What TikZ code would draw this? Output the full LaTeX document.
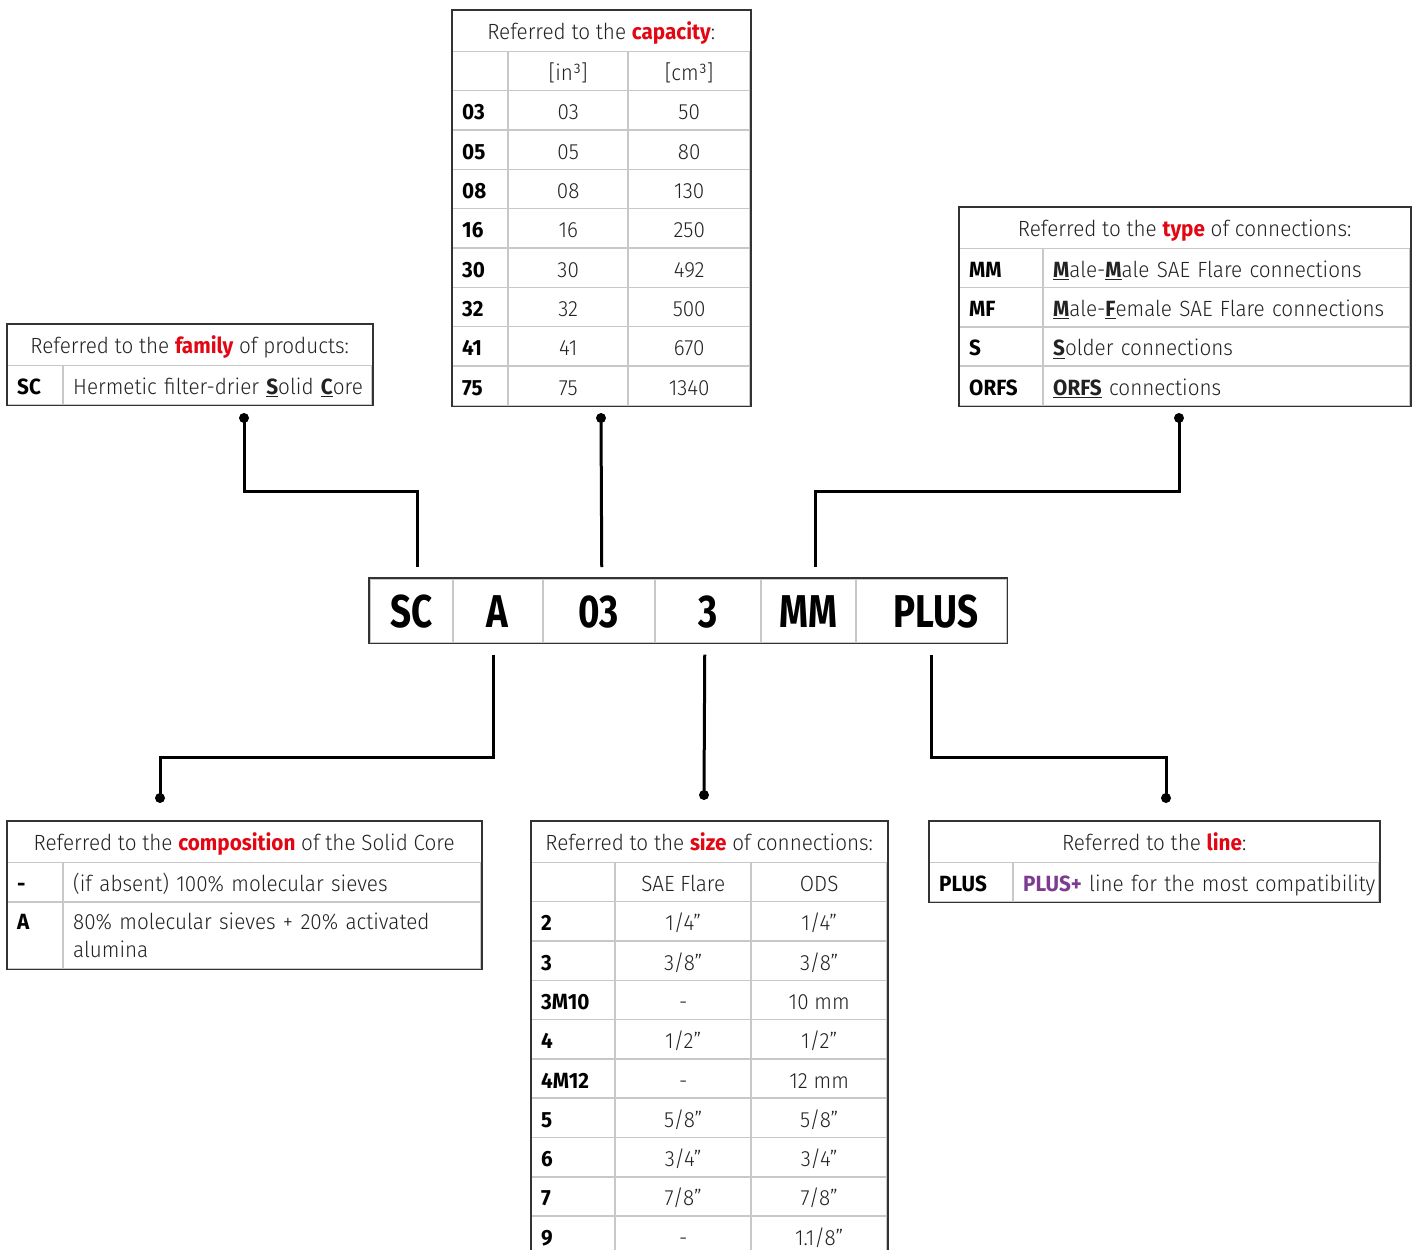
\documentclass[tikz,border=0pt]{standalone}
\usepackage{fontspec}
\setmainfont{Fira Sans}[UprightFont=* Light, BoldFont=* Bold, FakeStretch=0.94]
\newfontfamily\codefont{Fira Sans Bold}[FakeStretch=0.8]
\usetikzlibrary{
  matrix,
  positioning
}
\definecolor{reddish}{RGB}{227,6,19}
\definecolor{purplish}{RGB}{125,60,146}
\definecolor{inkgray}{RGB}{34,34,34}
\definecolor{rulegray}{RGB}{200,200,200}
\definecolor{framegray}{RGB}{51,51,51}
\newcommand{\keyword}[1]{\textcolor{reddish}{\textbf{#1}}}
\newcommand{\ulkey}[1]{\underline{\textbf{#1}}}

\begin{document}
\begin{tikzpicture}[
  x=1pt,
  y=-1pt,
  font=\fontsize{22}{28}\selectfont,
  text=inkgray,
  head/.style={
    draw=none,
    rectangle,
    minimum height=40pt,
    inner sep=0pt,
    text height=22pt,
    text depth=3pt
  },
  cell/.style={
    draw=rulegray,
    line width=1.5pt,
    rectangle,
    minimum height=39.4pt,
    inner xsep=10pt,
    inner ysep=0pt,
    text height=22pt,
    text depth=3pt,
    anchor=center
  },
  tab/.style={
    matrix of nodes,
    nodes={cell},
    nodes in empty cells,
    column sep=-1.5pt,
    row sep=-1.5pt,
    inner sep=0pt
  },
  keycol/.style={
    text width=#1,
    align=left,
    font=\fontsize{22}{28}\selectfont\bfseries,
    text=black
  },
  desccol/.style={
    text width=#1,
    align=left
  },
  valcol/.style={
    minimum width=#1
  },
  frame/.style={
    draw=framegray,
    line width=1.5pt
  },
  code/.style={
    draw=rulegray,
    line width=1.5pt,
    rectangle,
    minimum height=64pt,
    inner sep=0pt,
    text height=40pt,
    text depth=6pt,
    font=\codefont\fontsize{46}{46}\selectfont,
    text=black
  },
  link/.style={
    line width=3pt,
    black
  },
  dot/.style={
    circle,
    fill=black,
    inner sep=0pt,
    minimum size=10pt
  }
]

\useasboundingbox[fill=white] (0,0) rectangle (1416,1250);

% Family
\node[head, minimum width=365pt, anchor=north west] (famh) at (7,324)
  {Referred to the \keyword{family} of products:};
\matrix[tab, below=0pt of famh,
  column 1/.style={nodes={keycol=36pt}},
  column 2/.style={nodes={desccol=289pt}}] (famm) {
  SC & \mbox{Hermetic filter-drier \ulkey{S}olid \ulkey{C}ore} \\
};
\draw[frame] (famh.north west) rectangle (famm.south east);

% Capacity
\node[head, minimum width=298pt, anchor=north west] (caph) at (452,10)
  {Referred to the \keyword{capacity}:};
\matrix[tab, below=0pt of caph,
  nodes={minimum height=39.33pt},
  column 1/.style={nodes={keycol=36pt}},
  column 2/.style={nodes={valcol=120pt}},
  column 3/.style={nodes={valcol=122pt}}] (capm) {
     & {[in³]} & {[cm³]} \\
  03 & 03      & 50      \\
  05 & 05      & 80      \\
  08 & 08      & 130     \\
  16 & 16      & 250     \\
  30 & 30      & 492     \\
  32 & 32      & 500     \\
  41 & 41      & 670     \\
  75 & 75      & 1340    \\
};
\draw[frame] (caph.north west) rectangle (capm.south east);

% Type
\node[head, minimum width=451pt, anchor=north west] (typh) at (959,207)
  {Referred to the \keyword{type} of connections:};
\matrix[tab, below=0pt of typh,
  nodes={minimum height=39.25pt},
  column 1/.style={nodes={keycol=64pt}},
  column 2/.style={nodes={desccol=347pt}}] (typm) {
  MM   & \mbox{\ulkey{M}ale-\ulkey{M}ale SAE Flare connections}   \\
  MF   & \mbox{\ulkey{M}ale-\ulkey{F}emale SAE Flare connections} \\
  S    & \ulkey{S}older connections                              \\
  ORFS & \ulkey{ORFS} connections                                \\
};
\draw[frame] (typh.north west) rectangle (typm.south east);

% Code bar
\node[code, minimum width=83pt, anchor=north west] (sc) at (369,578) {SC};
\node[code, minimum width=90pt, right=-1.5pt of sc] (comp) {A};
\node[code, minimum width=112pt, right=-1.5pt of comp] (cap) {03};
\node[code, minimum width=106pt, right=-1.5pt of cap] (size) {3};
\node[code, minimum width=95pt, right=-1.5pt of size] (type) {MM};
\node[code, minimum width=151pt, right=-1.5pt of type] (plus) {\hspace*{9pt}PLUS};
\draw[frame] (sc.north west) rectangle (plus.south east);

% Composition
\node[head, minimum width=474pt, anchor=north west] (comph) at (7,821)
  {Referred to the \keyword{composition} of the Solid Core};
\matrix[tab, below=0pt of comph,
  column 1/.style={nodes={keycol=36pt}},
  column 2/.style={nodes={desccol=398pt}},
  row 2/.style={nodes={minimum height=67pt, text depth=33pt}}] (compm) {
  - & (if absent) 100\% molecular sieves \\
  A & 80\% molecular sieves + 20\% activated\newline alumina \\
};
\draw[frame] (comph.north west) rectangle (compm.south east);

% Size
\node[head, minimum width=356pt, anchor=north west] (sizeh) at (531,821)
  {Referred to the \keyword{size} of connections:};
\matrix[tab, below=0pt of sizeh,
  nodes={minimum height=39.3pt},
  column 1/.style={nodes={keycol=64pt}},
  column 2/.style={nodes={valcol=136pt}},
  column 3/.style={nodes={valcol=136pt}}] (sizem) {
       & SAE Flare & ODS    \\
  2    & 1/4”      & 1/4”   \\
  3    & 3/8”      & 3/8”   \\
  3M10 & -         & 10 mm  \\
  4    & 1/2”      & 1/2”   \\
  4M12 & -         & 12 mm  \\
  5    & 5/8”      & 5/8”   \\
  6    & 3/4”      & 3/4”   \\
  7    & 7/8”      & 7/8”   \\
  9    & -         & 1.1/8” \\
};
\draw[frame] (sizeh.north west) rectangle (sizem.south east);

% Line
\node[head, minimum width=450pt, anchor=north west] (plush) at (929,821)
  {Referred to the \keyword{line}:};
\matrix[tab, below=0pt of plush,
  nodes={minimum height=39pt},
  column 1/.style={nodes={keycol=64pt}},
  column 2/.style={nodes={desccol=346pt}}] (plusm) {
  PLUS & \mbox{\textcolor{purplish}{\textbf{PLUS+}} line for the most compatibility} \\
};
\draw[frame] (plush.north west) rectangle (plusm.south east);

% Dots
\node[dot] (famdot) at (244,418) {};
\node[dot] (capdot) at (601,418) {};
\node[dot] (typdot) at (1179,418) {};
\node[dot] (compdot) at (160,798) {};
\node[dot] (sizedot) at (704,795) {};
\node[dot] (plusdot) at (1166,798) {};

% Links up
\draw[link] (famdot.center) -- ++(0,73) -| ([xshift=6pt,yshift=11pt]sc.north);
\draw[link] (capdot.center) -- ([xshift=3pt,yshift=11pt]cap.north);
\draw[link] (typdot.center) -- ++(0,73) -| ([xshift=7pt,yshift=11pt]type.north);

% Links down
\draw[link] ([xshift=-4pt,yshift=-11pt]comp.south) -- ++(0,103) -| (compdot.center);
\draw[link] ([xshift=-3pt,yshift=-11pt]size.south) -- (sizedot.center);
\draw[link] ([yshift=-11pt]plus.south) -- ++(0,103) -| (plusdot.center);

\end{tikzpicture}
\end{document}
